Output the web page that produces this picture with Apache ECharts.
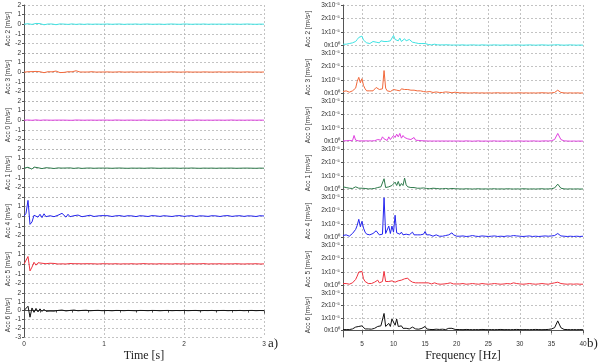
<!DOCTYPE html>
<html>
<head>
<meta charset="utf-8">
<script src="https://cdn.jsdelivr.net/npm/echarts@6/dist/echarts.min.js"></script>
<style>html,body{margin:0;padding:0;background:#fff}#c{width:600px;height:363px}</style>
</head>
<body>
<div id="c"></div>
<script>
// ---- data ----
const channelNames = ['Acc 2','Acc 3','Acc 0','Acc 1','Acc 4','Acc 5','Acc 6'];
const timeTicks = [0,1,2,3];
const freqTicks = [5,10,15,20,25,30,35,40];
const psdTicks = [0,1,2,3];

const time = [
0,0.025,0.05,0.075,0.1,0.125,0.15,0.175,0.2,0.225,
0.25,0.275,0.3,0.325,0.35,0.375,0.4,0.425,0.45,0.475,
0.5,0.525,0.55,0.575,0.6,0.625,0.65,0.675,0.7,0.725,
0.75,0.775,0.8,0.825,0.85,0.875,0.9,0.925,0.95,0.975,
1.0,1.05,1.1,1.15,1.2,1.25,1.3,1.35,1.4,1.45,
1.5,1.55,1.6,1.65,1.7,1.75,1.8,1.85,1.9,1.95,
2.0,2.05,2.1,2.15,2.2,2.25,2.3,2.35,2.4,2.45,
2.5,2.55,2.6,2.65,2.7,2.75,2.8,2.85,2.9,2.95,
3.0];

const accT2 = [
0,0.02,0.05,0.03,-0.02,0.04,0.08,0.12,0.06,-0.02,
-0.06,-0.03,0.02,0.05,0.02,-0.03,-0.05,-0.02,0.03,0.04,
0.01,-0.03,-0.02,0.02,0.03,0,-0.02,0.01,0.02,-0.01,
-0.02,0.01,0.02,0,-0.01,0.01,0.01,-0.01,0,0.01,
0,0.02,-0.01,0.01,0.02,-0.02,0.01,0,0.02,-0.01,
0.01,0.02,-0.01,0,0.01,-0.02,0.01,0.02,0,-0.01,
0.02,0.01,-0.01,0.01,0,0.02,-0.01,0.01,0,0.01,
-0.01,0.02,0,0.01,-0.01,0.01,0.02,0,-0.01,0.01,
0];
const accT3 = [
0,0.03,0.05,0.02,0.06,0.1,0.08,0.2,0.05,-0.15,
-0.05,0.03,0.05,0.02,0.04,0.08,0.12,0.05,-0.04,-0.1,
-0.02,0.03,0.05,0.02,0.04,0.1,0.15,0.06,0.02,-0.03,
0.02,0.04,0.02,0.03,0.05,0.02,0.01,0.03,0.02,0.01,
0.02,0.03,0.01,0.02,0.04,0.01,0.02,0.03,0.01,0.02,
0.03,0.02,0.01,0.03,0.02,0.01,0.02,0.04,0.02,0.01,
0.02,0.03,0.01,0.02,0.01,0.03,0.02,0.01,0.02,0.03,
0.01,0.02,0.03,0.02,0.01,0.02,0.03,0.01,0.02,0.01,
0.02];
const accT0 = [
0,0.01,0.02,0.01,-0.01,0.02,0.03,0.01,-0.01,0.01,
0.02,0,0.01,0.02,0,-0.01,0.01,0.02,0.01,0,
0.01,0.02,0,0.01,-0.01,0.01,0.02,0,0.01,0.01,
0,0.02,0.01,0,0.01,0.01,0,0.02,0.01,0,
0.01,0.01,0,0.02,0.01,0,0.01,0.01,0,0.01,
0.02,0,0.01,0.01,0,0.01,0.02,0,0.01,0,
0.01,0.01,0,0.02,0.01,0,0.01,0,0.01,0.01,
0,0.01,0.02,0,0.01,0,0.01,0.01,0,0.01,
0];
const accT1 = [
0,0.05,0.1,0.2,-0.1,0.12,-0.05,0.05,0.02,-0.04,
0.03,0.05,-0.02,0.02,0.04,-0.03,0.02,0.03,-0.02,0.01,
0.04,0.02,-0.02,0.03,0.01,-0.02,0.02,0.03,0,-0.02,
0.02,0.01,-0.01,0.02,0,-0.01,0.02,0.01,-0.01,0.01,
0,0.01,-0.01,0.01,0.02,0,-0.01,0.01,0,0.01,
-0.01,0.01,0.02,0,-0.01,0.01,0,0.01,0.01,-0.01,
0.01,0,0.02,0,-0.01,0.01,0,0.01,-0.01,0.01,
0,0.01,0.01,-0.01,0,0.01,0.01,0,-0.01,0.01,
0];
const accT4 = [
0,0.3,1.65,-0.85,-0.6,0.1,0.25,-0.1,0.2,-0.15,
0.25,-0.05,0.15,0.05,0.1,-0.05,0.05,0.1,0,0.3,
0.15,-0.1,0.2,-0.05,0.15,0.05,-0.05,0.12,0.05,-0.05,
0.1,0.02,-0.05,0.1,0.05,-0.03,0.08,0.03,-0.04,0.06,
0.03,0.05,-0.03,0.04,0.06,-0.02,0.05,0.03,-0.04,0.05,
0.02,-0.03,0.06,0.03,-0.02,0.05,0.01,-0.03,0.04,0.06,
-0.02,0.03,0.05,-0.03,0.04,0.02,-0.02,0.05,0.03,-0.03,
0.04,0.06,-0.02,0.03,0.05,-0.02,0.04,0.02,-0.03,0.05,
0.02];
const accT5 = [
0,0.2,0.8,-0.7,-0.3,0.2,-0.1,0.15,0.2,0.1,
-0.05,0.05,0.18,0.1,0.05,0.08,0.12,0.02,0.06,0.04,
0.08,0.02,0.05,0.07,0.03,0.05,0.08,0.05,0.15,0.04,
0.02,0.05,0.03,0.05,0.02,0.04,0.06,0.02,0.03,0.05,
0.02,0.04,0.03,0.05,0.02,0.04,0.03,0.05,0.02,0.04,
0.06,0.03,0.04,0.02,0.05,0.03,0.04,0.02,0.05,0.03,
0.04,0.02,0.05,0.03,0.04,0.06,0.02,0.04,0.03,0.05,
0.02,0.04,0.03,0.05,0.03,0.02,0.04,0.03,0.05,0.02,
0.03];
const accT6 = [
0,0.1,0.5,-0.75,0.3,-0.2,0.25,-0.15,0.2,-0.1,
0.15,-0.08,0.12,-0.05,0.1,-0.06,0.08,0.02,-0.05,0.06,
0.03,-0.04,0.05,0.02,-0.03,0.06,0.04,-0.02,0.05,0.02,
-0.03,0.04,0.02,-0.02,0.03,0.01,-0.02,0.03,0.01,-0.01,
0.02,0.01,-0.02,0.02,0.01,-0.01,0.02,0,-0.02,0.02,
0.01,-0.01,0.02,0.01,-0.02,0.01,0.02,-0.01,0.01,0,
0.02,-0.01,0.01,0.02,-0.02,0.01,0,0.02,-0.01,0.01,
0.02,-0.01,0.01,0,0.02,-0.01,0.01,0.02,-0.01,0.01,
0];

// frequency (Hz) and spectra in units of 1e-5 m²/s³
const freq = [
2,2.25,2.5,2.75,3,3.25,3.5,3.75,4,4.25,
4.5,4.75,5,5.25,5.5,5.75,6,6.25,6.5,6.75,
7,7.25,7.5,7.75,8,8.25,8.5,8.75,9,9.25,
9.5,9.75,10,10.25,10.5,10.75,11,11.25,11.5,11.75,
12,12.25,12.5,12.75,13,13.25,13.5,13.75,14,14.25,
14.5,14.75,15,15.25,15.5,15.75,16,16.25,16.5,16.75,
17,17.25,17.5,17.75,18,18.25,18.5,18.75,19,19.25,
19.5,19.75,20,
20.5,21,21.5,22,22.5,23,23.5,24,24.5,25,
25.5,26,26.5,27,27.5,28,28.5,29,29.5,30,
30.5,31,31.5,32,32.5,33,33.5,34,34.5,35,
35.5,36,36.5,37,37.5,38,38.5,39,39.5,40];

const psd2 = [
0.1,0.15,0.1,0.2,0.15,0.1,0.2,0.25,0.3,
0.45,0.6,0.5,0.7,0.4,0.3,
0.2,0.25,0.15,0.2,0.3,0.2,
0.25,0.3,0.2,0.35,0.25,0.3,0.4,0.3,0.25,0.35,0.3,
0.75,0.45,0.5,
0.35,0.55,0.3,0.4,0.5,0.35,0.3,0.45,0.35,0.25,
0.3,0.2,0.25,0.15,0.2,0.15,0.1,0.15,
0.1,0.08,0.1,0.05,0.08,0.1,0.06,0.05,0.08,0.05,0.06,0.05,0.04,0.06,0.05,0.04,0.05,0.04,0.05,0.04,
0.04,0.05,0.03,0.04,0.05,0.04,0.03,0.05,0.04,0.03,
0.04,0.05,0.04,0.03,0.04,0.05,0.03,0.04,0.05,0.04,
0.03,0.04,0.05,0.04,0.03,0.04,0.05,0.04,0.03,0.04,
0.05,0.06,0.04,0.03,0.04,0.05,0.04,0.03,0.04,0.03];
const psd3 = [
0.15,0.1,0.2,0.15,0.1,0.15,0.2,0.3,0.4,
0.9,1.2,0.8,1.1,0.6,0.35,
0.2,0.15,0.2,0.15,0.2,0.25,
0.45,0.5,0.3,0.25,0.35,1.7,0.4,0.2,0.25,0.15,0.2,
0.3,0.2,0.25,
0.3,0.2,0.35,0.25,0.3,0.4,0.3,0.35,0.25,0.3,
0.25,0.15,0.2,0.15,0.2,0.1,0.15,0.1,
0.12,0.1,0.15,0.1,0.08,0.1,0.12,0.1,0.08,0.1,0.08,0.1,0.12,0.08,0.1,0.08,0.06,0.08,0.1,0.06,
0.05,0.06,0.05,0.04,0.05,0.06,0.04,0.05,0.04,0.05,
0.04,0.05,0.06,0.04,0.05,0.04,0.05,0.04,0.05,0.06,
0.04,0.05,0.04,0.05,0.04,0.05,0.06,0.05,0.04,0.05,
0.08,0.25,0.08,0.05,0.04,0.05,0.04,0.05,0.04,0.04];
const psd0 = [
0.05,0.04,0.06,0.05,0.08,0.05,0.06,0.45,0.1,
0.06,0.05,0.08,0.05,0.06,0.05,
0.04,0.05,0.06,0.05,0.04,0.06,
0.08,0.15,0.06,0.1,0.35,0.2,0.1,0.08,0.35,0.15,0.1,
0.45,0.3,0.55,
0.35,0.6,0.25,0.45,0.3,0.4,0.2,0.3,0.15,0.25,
0.3,0.1,0.15,0.08,0.1,0.06,0.08,0.05,
0.05,0.04,0.05,0.04,0.05,0.04,0.03,0.04,0.05,0.04,0.03,0.04,0.05,0.04,0.03,0.04,0.03,0.04,0.03,0.04,
0.04,0.03,0.05,0.04,0.03,0.04,0.05,0.03,0.04,0.03,
0.04,0.05,0.03,0.04,0.03,0.05,0.04,0.03,0.04,0.05,
0.03,0.04,0.03,0.05,0.04,0.03,0.04,0.05,0.04,0.06,
0.15,0.6,0.15,0.05,0.04,0.03,0.04,0.03,0.04,0.03];
const psd1 = [
0.2,0.3,0.15,0.25,0.1,0.15,0.08,0.1,0.2,
0.15,0.1,0.08,0.1,0.06,0.08,
0.06,0.05,0.08,0.06,0.05,0.08,
0.1,0.15,0.08,0.2,0.1,0.8,0.15,0.1,0.2,0.15,0.3,
0.2,0.55,0.3,
0.6,0.25,0.45,0.3,0.85,0.35,0.2,0.3,0.15,0.2,
0.15,0.2,0.1,0.15,0.1,0.08,0.12,0.08,
0.08,0.1,0.06,0.08,0.1,0.06,0.08,0.1,0.06,0.08,0.06,0.05,0.08,0.06,0.05,0.06,0.08,0.05,0.06,0.05,
0.05,0.04,0.06,0.05,0.04,0.05,0.06,0.04,0.05,0.04,
0.05,0.06,0.04,0.05,0.04,0.06,0.05,0.04,0.05,0.04,
0.06,0.05,0.04,0.05,0.04,0.05,0.06,0.04,0.05,0.06,
0.12,0.4,0.1,0.05,0.04,0.05,0.04,0.05,0.04,0.04];
const psd4 = [
0.15,0.1,0.2,0.15,0.1,0.2,0.3,0.4,0.6,
0.9,1.35,0.8,1.2,0.7,0.4,
0.25,0.15,0.2,0.15,0.3,0.35,
0.5,0.4,0.2,0.3,0.25,2.95,0.3,0.2,0.85,0.3,0.85,
0.4,1.65,0.35,
0.3,0.25,0.4,0.2,0.3,0.25,0.35,0.2,0.25,0.4,
0.2,0.15,0.2,0.15,0.2,0.15,0.25,0.45,
0.2,0.15,0.2,0.15,0.1,0.15,0.2,0.15,0.1,0.15,0.1,0.12,0.15,0.1,0.2,0.3,0.35,0.2,0.15,0.1,
0.1,0.12,0.08,0.1,0.15,0.1,0.08,0.12,0.1,0.08,
0.1,0.12,0.08,0.1,0.08,0.12,0.1,0.15,0.12,0.1,
0.08,0.1,0.12,0.08,0.1,0.08,0.1,0.12,0.1,0.12,
0.15,0.3,0.12,0.1,0.08,0.1,0.08,0.1,0.08,0.1];
const psd5 = [
0.15,0.1,0.15,0.2,0.1,0.15,0.2,0.3,0.45,
0.7,1.0,0.9,1.05,0.5,0.3,
0.2,0.15,0.2,0.15,0.2,0.25,
0.35,0.4,0.2,0.3,0.3,1.05,0.3,0.2,0.3,0.25,0.35,
0.3,0.25,0.3,
0.35,0.3,0.4,0.45,0.5,0.6,0.55,0.4,0.3,0.25,
0.3,0.2,0.25,0.2,0.15,0.2,0.15,0.2,
0.15,0.2,0.15,0.12,0.15,0.2,0.15,0.12,0.15,0.1,0.15,0.12,0.2,0.15,0.25,0.2,0.15,0.12,0.15,0.12,
0.12,0.15,0.1,0.12,0.15,0.12,0.1,0.15,0.12,0.1,
0.12,0.15,0.12,0.1,0.12,0.15,0.12,0.2,0.15,0.12,
0.1,0.12,0.15,0.12,0.1,0.12,0.15,0.12,0.1,0.15,
0.2,0.25,0.15,0.12,0.1,0.12,0.1,0.12,0.1,0.1];
const psd6 = [
0.05,0.08,0.05,0.1,0.05,0.08,0.1,0.15,0.25,
0.4,0.3,0.45,0.35,0.2,0.1,
0.08,0.1,0.05,0.08,0.1,0.15,
0.2,0.3,0.15,0.35,0.2,1.35,0.3,0.2,0.55,0.3,0.9,
0.85,0.4,0.9,
0.3,0.2,0.35,0.15,0.2,0.15,0.2,0.1,0.15,0.25,
0.15,0.1,0.12,0.08,0.1,0.15,0.12,0.3,
0.1,0.08,0.06,0.08,0.05,0.06,0.08,0.05,0.06,0.05,0.08,0.06,0.05,0.1,0.15,0.25,0.15,0.08,0.06,0.05,
0.05,0.04,0.06,0.05,0.04,0.05,0.04,0.06,0.05,0.04,
0.05,0.04,0.05,0.06,0.04,0.05,0.04,0.05,0.06,0.05,
0.04,0.05,0.04,0.05,0.06,0.05,0.04,0.05,0.06,0.1,
0.2,0.75,0.2,0.06,0.05,0.04,0.05,0.04,0.05,0.04];

const timeData = [accT2, accT3, accT0, accT1, accT4, accT5, accT6];
const freqData = [psd2, psd3, psd0, psd1, psd4, psd5, psd6];
const lineColors = ['#3fe3e3','#f2683a','#e040e0','#2f7a4c','#2424ee','#f0323e','#111111'];

// ---- layout ----
const TOP = 5, H = 48, N = 7;
const LEFT_L = 24, LEFT_R = 343, W = 240;
const labelFont = {fontFamily: 'Liberation Sans', fontSize: 6.5, color: '#333'};
const gridLine = {show: true, lineStyle: {color: '#b4b4b4', type: [2, 2], width: 0.8}};
const supDigits = {'0':'⁰','1':'¹','2':'²','3':'³','4':'⁴','5':'⁵','-':'⁻'};
const sup = s => String(s).split('').map(c => supDigits[c] || c).join('');
const psdLabel = v => (Math.round(v) === 0 ? '0x10' + sup(0) : Math.round(v) + 'x10' + sup(-5));

const grids = [], xAxes = [], yAxes = [], series = [];
for (let k = 0; k < N; k++) {
  const last = k === N - 1;
  // left (time)
  grids.push({left: LEFT_L, top: TOP + k * H, width: W, height: H});
  xAxes.push({
    type: 'value', gridIndex: grids.length - 1, min: 0, max: 3, interval: 1,
    axisLine: {show: last, lineStyle: {color: '#555', width: 1}},
    axisTick: {show: last, length: 3, lineStyle: {color: '#555'}},
    minorTick: {show: last, splitNumber: 5, length: 2, lineStyle: {color: '#555'}},
    axisLabel: Object.assign({show: last, margin: 4}, labelFont),
    splitLine: gridLine,
    name: last ? 'Time [s]' : '', nameLocation: 'middle', nameGap: 13,
    nameTextStyle: {fontFamily: 'Liberation Serif', fontSize: 12, color: '#222'}
  });
  yAxes.push({
    type: 'value', gridIndex: grids.length - 1, min: -3, max: 2, interval: 1,
    axisLine: {show: true, lineStyle: {color: '#555', width: 1}},
    axisTick: {show: true, length: 2, lineStyle: {color: '#555'}},
    axisLabel: Object.assign({margin: 3, showMinLabel: last}, labelFont),
    splitLine: gridLine,
    name: channelNames[k] + ' [m/s²]', nameLocation: 'middle', nameGap: 12, nameRotate: 90,
    nameTextStyle: {fontFamily: 'Liberation Sans', fontSize: 6.5, color: '#333'}
  });
  series.push({
    type: 'line', xAxisIndex: xAxes.length - 1, yAxisIndex: yAxes.length - 1,
    showSymbol: false, symbol: 'none', animation: false,
    lineStyle: {width: 1, color: lineColors[k]},
    data: time.map((t, i) => [t, timeData[k][i]])
  });

  // right (frequency)
  grids.push({left: LEFT_R, top: TOP + k * H, width: W, height: H});
  xAxes.push({
    type: 'value', gridIndex: grids.length - 1, min: 2, max: 40,
    axisLine: {show: last, lineStyle: {color: '#555', width: 1}},
    axisTick: {show: last, length: 3, customValues: freqTicks, lineStyle: {color: '#555'}},
    axisLabel: Object.assign({show: last, margin: 4, customValues: freqTicks}, labelFont),
    splitLine: gridLine,
    name: last ? 'Frequency [Hz]' : '', nameLocation: 'middle', nameGap: 13,
    nameTextStyle: {fontFamily: 'Liberation Serif', fontSize: 12, color: '#222'}
  });
  yAxes.push({
    type: 'value', gridIndex: grids.length - 1, min: -0.55, max: 3,
    axisLine: {show: true, lineStyle: {color: '#555', width: 1}},
    axisTick: {show: true, length: 2, customValues: psdTicks, lineStyle: {color: '#555'}},
    axisLabel: Object.assign({margin: 3, customValues: psdTicks, formatter: psdLabel}, labelFont),
    splitLine: gridLine,
    name: channelNames[k] + ' [m²/s³]', nameLocation: 'middle', nameGap: 31, nameRotate: 90,
    nameTextStyle: {fontFamily: 'Liberation Sans', fontSize: 6.5, color: '#333'}
  });
  series.push({
    type: 'line', xAxisIndex: xAxes.length - 1, yAxisIndex: yAxes.length - 1,
    showSymbol: false, symbol: 'none', animation: false,
    lineStyle: {width: 1, color: lineColors[k]},
    data: freq.map((f, i) => [f, freqData[k][i]])
  });
}

const chart = echarts.init(document.getElementById('c'), null, {renderer: 'canvas'});
chart.setOption({
  animation: false,
  backgroundColor: '#fff',
  grid: grids, xAxis: xAxes, yAxis: yAxes, series: series,
  graphic: [
    {type: 'text', left: 268, top: 337, style: {text: 'a)', font: '13px "Liberation Serif"', fill: '#222'}},
    {type: 'text', left: 587, top: 337, style: {text: 'b)', font: '13px "Liberation Serif"', fill: '#222'}}
  ]
});
</script>
</body>
</html>
